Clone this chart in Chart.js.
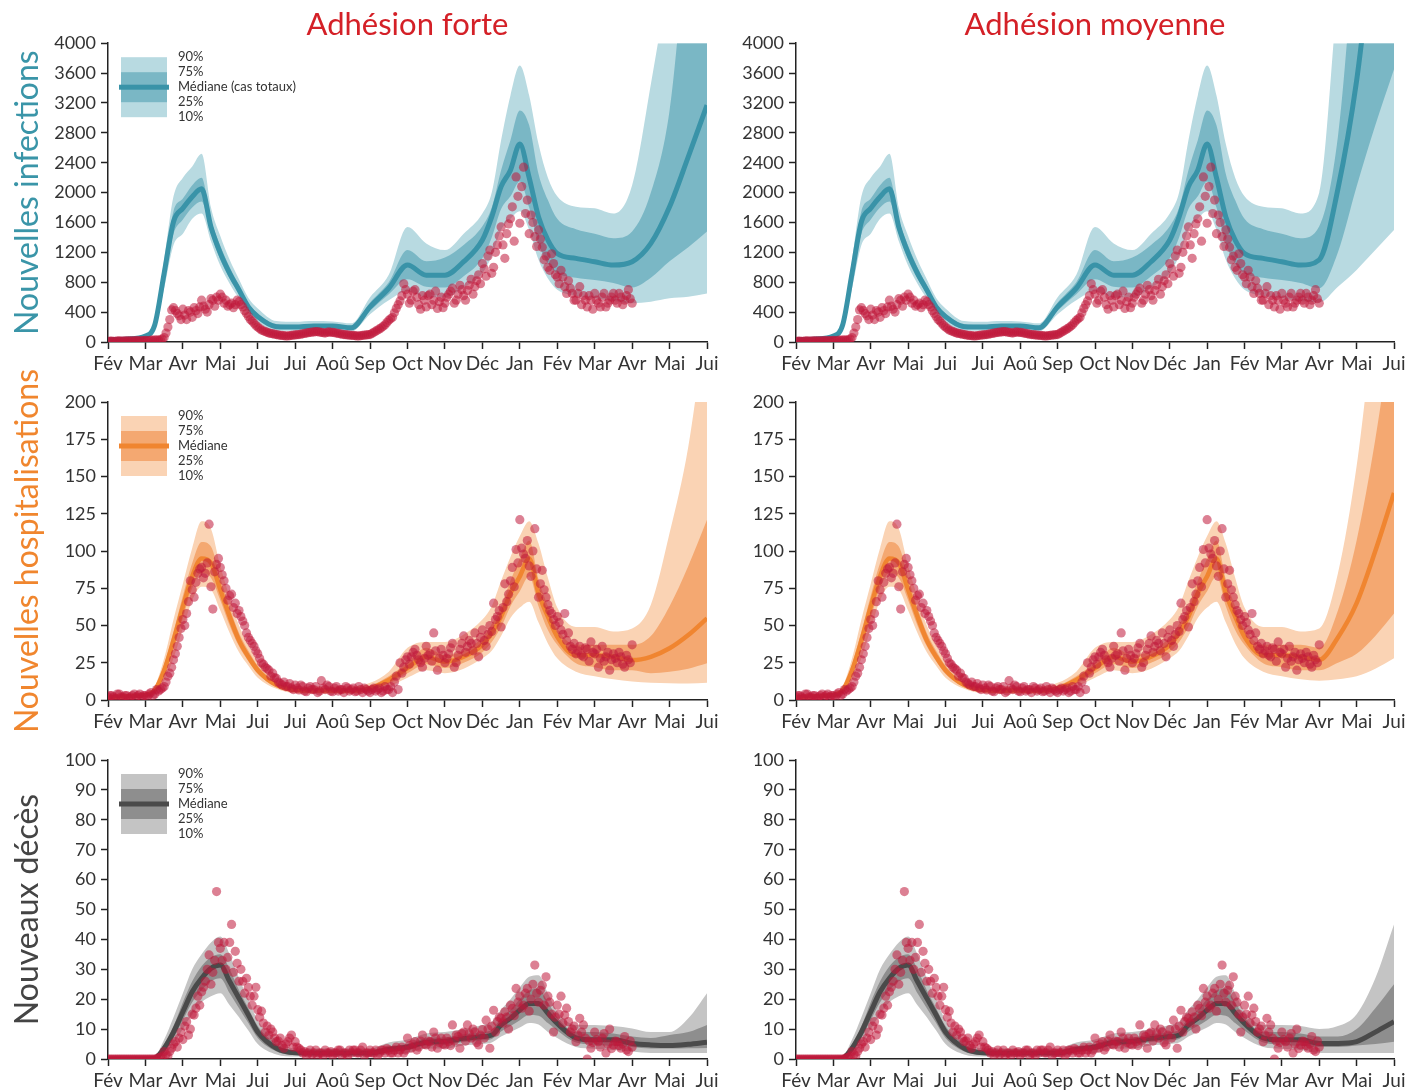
<!DOCTYPE html>
<html>
<head>
<meta charset="utf-8">
<title>Projections</title>
<script src="https://cdn.jsdelivr.net/npm/chart.js@4.4.1/dist/chart.umd.min.js"></script>
<style>
  body { margin: 0; background: #fff; width: 1409px; height: 1091px; overflow: hidden; position: relative; }
  canvas { position: absolute; }
</style>
</head>
<body>
<canvas id="c0" width="725" height="374" style="left:0;top:0"></canvas>
<canvas id="c1" width="719" height="374" style="left:690px;top:0"></canvas>
<canvas id="c2" width="725" height="372" style="left:0;top:360px"></canvas>
<canvas id="c3" width="719" height="372" style="left:690px;top:360px"></canvas>
<canvas id="c4" width="725" height="371" style="left:0;top:720px"></canvas>
<canvas id="c5" width="719" height="371" style="left:690px;top:720px"></canvas>
<script>
// {{{ data
const monthLabels = ['Fév', 'Mar', 'Avr', 'Mai', 'Jui', 'Jui', 'Aoû', 'Sep', 'Oct', 'Nov', 'Déc', 'Jan', 'Fév', 'Mar', 'Avr', 'Mai', 'Jui'];
const columnTitles = ['Adhésion forte', 'Adhésion moyenne'];

// months since 1 Feb, where the simulated bands were read
const bandMonths = [0, 0.5, 1, 1.25, 1.5, 1.75, 2, 2.25, 2.5, 2.75, 3, 3.25, 3.5, 3.75, 4, 4.5, 5, 5.5, 6, 6.5, 7, 7.5,
  8, 8.5, 9, 9.5, 10, 10.25, 10.5, 10.75, 11, 11.25, 11.5, 11.75, 12, 12.5, 13, 13.5, 14, 14.5, 15, 15.5, 16];

// infections: history (shared) up to 13.5, then the two scenarios
const infP10 = [20, 25, 55, 170, 720, 1300, 1450, 1650, 1720, 1350, 1020, 780, 580, 380, 260, 150, 150, 160, 165, 140, 370, 560,
  680, 600, 600, 730, 920, 1150, 1500, 1650, 1750, 1500, 1100, 850, 700, 620, 585, 550];
const infP25 = [25, 32, 68, 200, 830, 1450, 1640, 1800, 1880, 1450, 1100, 850, 640, 425, 300, 175, 175, 190, 190, 165, 420, 640,
  840, 740, 730, 880, 1120, 1400, 1780, 1950, 2150, 1800, 1320, 1050, 920, 860, 830, 790];
const infP50 = [30, 40, 80, 230, 920, 1610, 1790, 1945, 2050, 1540, 1190, 920, 695, 470, 340, 205, 200, 215, 215, 190, 470, 720,
  1030, 895, 895, 1075, 1365, 1675, 2080, 2300, 2650, 2200, 1675, 1365, 1185, 1120, 1075, 1030];
const infP75 = [35, 48, 92, 265, 1000, 1750, 1920, 2100, 2200, 1640, 1290, 1000, 760, 520, 385, 240, 230, 240, 240, 215, 530, 800,
  1230, 1080, 1130, 1300, 1550, 1800, 2300, 2700, 3100, 2900, 2250, 1900, 1650, 1510, 1450, 1390];
const infP90 = [40, 55, 105, 300, 1100, 1950, 2200, 2350, 2520, 1800, 1420, 1100, 840, 590, 450, 280, 270, 280, 275, 250, 600, 900,
  1540, 1320, 1230, 1450, 1720, 2000, 2700, 3300, 3700, 3300, 2650, 2200, 1950, 1810, 1790, 1720];
const infForteP10 = [520, 540, 585, 605, 650];
const infForteP25 = [730, 860, 1080, 1270, 1480];
const infForteP50 = [1075, 1320, 1810, 2480, 3170];
const infForteP75 = [1480, 2000, 3100, 5500, 7000];
const infForteP90 = [2100, 3450, 5000, 7000, 9000];
const infMoyP10 = [530, 740, 965, 1230, 1500];
const infMoyP25 = [720, 1200, 2080, 2900, 3650];
const infMoyP50 = [1100, 2050, 3500, 5600, 7500];
const infMoyP75 = [1550, 2750, 5500, 7500, 9500];
const infMoyP90 = [2000, 4700, 7000, 9000, 11000];

// hospitalisations
const hospP10 = [1, 1.5, 2, 4, 13, 28, 48, 67, 76, 74, 60, 45, 32, 23, 15, 7.5, 4.5, 4.2, 4.2, 4.2, 5, 9,
  15, 20, 18, 21, 28, 33, 43, 55, 62, 66, 52, 38, 28, 19, 16, 14];
const hospP25 = [1.5, 2, 2.8, 5.5, 16, 34, 55, 75, 85, 82, 67, 50, 36, 26, 17.5, 8.7, 5.5, 5.2, 5.2, 5.2, 6.3, 11,
  18, 24, 21.5, 25, 32, 39, 49, 63, 73, 83, 63, 47, 37, 24.6, 22, 20];
const hospP50 = [2, 2.5, 3.4, 6.7, 20, 40, 62.6, 83, 95, 92, 74, 56, 40, 29, 20, 10, 6.7, 6.3, 6.3, 6.3, 7.8, 13.4,
  21.5, 29, 25.7, 29, 37, 45, 56, 71.6, 83, 95, 71.6, 56, 42.5, 30, 30, 29];
const hospP75 = [2.5, 3, 4, 8, 24, 46, 70, 92, 106, 103, 82, 62, 45, 33, 23, 11.5, 8, 7.5, 7.5, 7.5, 9.5, 16,
  25, 35, 30, 33, 42, 51, 63, 80, 95, 107, 81, 63, 48, 37, 37, 37];
const hospP90 = [3, 4, 5, 9.5, 28, 54, 78, 102, 120, 115, 90, 69, 50, 37, 26, 13, 9.5, 9, 9, 9, 11.5, 19,
  35, 39, 39, 44, 54, 63, 80, 96, 110, 120, 105, 82, 62, 49, 49, 46];
const hospForteP10 = [12.5, 11.5, 11.2, 11, 11.5];
const hospForteP25 = [20, 18, 19, 21, 24.6];
const hospForteP50 = [26.8, 29, 34.7, 43.6, 54.8];
const hospForteP75 = [37, 43, 63, 90, 121];
const hospForteP90 = [48, 64, 112, 170, 260];
const hospMoyP10 = [13, 14, 16, 21, 28];
const hospMoyP25 = [20, 25, 31, 43, 58];
const hospMoyP50 = [27, 42, 65, 100, 139];
const hospMoyP75 = [35, 60, 107, 175, 260];
const hospMoyP90 = [48, 85, 157, 260, 340];

// deces
const deaP10 = [0, 0, 0, 0, 1.5, 5, 10, 15, 19, 21, 22, 18, 14, 9.5, 5, 1.5, 0.8, 0.8, 0.8, 0.8, 0.8, 1.5,
  2, 3.5, 3.5, 4.5, 5, 5.5, 7.5, 9, 10.5, 12, 11.5, 9, 7, 4, 3.4, 3];
const deaP25 = [0, 0, 0, 0, 2.5, 7, 13, 19, 23, 26, 27, 22, 17, 12, 7, 2.5, 1.3, 1.3, 1.3, 1.3, 1.3, 2.3,
  3, 4.5, 4.7, 5.7, 6.2, 6.7, 9.2, 11, 13, 14.7, 14.5, 12, 9.5, 5.5, 4.8, 4.4];
const deaP50 = [0, 0, 0, 0.3, 3.6, 9, 15.8, 22.5, 27, 30.3, 31.4, 25.9, 20.3, 14.7, 9, 3.6, 2.1, 2, 2, 2, 2, 3.2,
  4, 5.6, 5.9, 6.9, 7.5, 8, 11.4, 13.6, 16.4, 18.6, 18.6, 15.3, 11.9, 7.1, 6.4, 6.4];
const deaP75 = [0, 0, 0.2, 0.6, 5, 11, 19, 26, 31, 34, 35, 30, 23, 17, 11, 5, 2.8, 2.8, 2.8, 2.8, 2.8, 4.2,
  5, 7, 7.3, 8.3, 9, 9.8, 13.8, 16.5, 20, 23, 23.6, 19, 14, 9, 9, 8.5];
const deaP90 = [0.3, 0.3, 0.5, 1, 6.5, 14, 22, 30, 35, 39, 41, 35, 27, 20, 13, 6.5, 3.5, 3.5, 3.5, 3.5, 3.5, 5.5,
  6.5, 8.5, 9, 10, 11.4, 12.5, 16.5, 20, 24, 27.5, 28, 22, 16, 11.4, 11.4, 11];
const deaForteP10 = [2.5, 2, 2, 2, 2];
const deaForteP25 = [4, 3.5, 3.5, 3.6, 3.7];
const deaForteP50 = [5.2, 4.7, 4.5, 4.9, 5.6];
const deaForteP75 = [7.5, 7, 8, 9, 11.4];
const deaForteP90 = [10.2, 9, 9, 13.6, 22];
const deaMoyP10 = [2, 2, 2, 2, 2];
const deaMoyP25 = [4, 4, 4.5, 5, 5.8];
const deaMoyP50 = [5.2, 5.2, 5.8, 9, 12.5];
const deaMoyP75 = [7.5, 7.5, 10, 17, 25];
const deaMoyP90 = [10, 11, 15, 27, 45];

// observed values, one every 0.1 month from 1 Feb to 1 Apr (obs...A on the tenths, obs...B halfway between)
const obsInfA = [10, 12, 10, 15, 12, 14, 16, 15, 18, 20, 22, 20, 25, 28, 30,
  60, 200, 430, 420, 350, 440, 300, 400, 460, 380, 560, 440, 500, 560, 600, 640, 520, 480, 520, 500, 540, 470, 380, 300, 250,
  200, 160, 140, 120, 110, 100, 90, 85, 80, 90, 95, 100, 110, 120, 130, 135, 140, 130, 120, 135,
  130, 120, 110, 100, 95, 90, 85, 80, 90, 95, 100, 130, 160, 190, 230, 290, 330, 450, 550, 780,
  640, 560, 700, 500, 620, 470, 640, 560, 450, 600, 520, 640, 720, 560, 760, 620, 690, 840, 740, 900,
  1050, 880, 1230, 1000, 1300, 1540, 1120, 1580, 1810, 2210, 1590, 2340, 1900, 1700, 1410, 1500, 1270, 1150, 960, 1050,
  870, 960, 740, 820, 650, 560, 740, 620, 470, 560, 650, 520, 600, 470, 560, 650, 520, 600, 560, 700, 520];
const obsInfB = [12, 10, 14, 12, 15, 14, 16, 18, 16, 20, 20, 24, 26, 25, 40,
  120, 300, 460, 380, 300, 360, 420, 330, 420, 470, 480, 400, 580, 480, 560, 600, 560, 500, 460, 560, 500, 420, 340, 280, 220,
  180, 150, 130, 115, 105, 95, 88, 82, 85, 92, 98, 105, 115, 125, 132, 138, 132, 125, 128, 130,
  125, 115, 105, 98, 92, 88, 82, 85, 92, 98, 115, 145, 175, 210, 260, 310, 390, 500, 620, 700,
  520, 680, 600, 440, 560, 620, 500, 680, 540, 460, 600, 680, 520, 640, 700, 560, 760, 640, 820, 780,
  980, 1150, 920, 1200, 1420, 1300, 1450, 1650, 1350, 1950, 2080, 1720, 1450, 1600, 1280, 1380, 1100, 1000, 1180, 900,
  780, 870, 650, 720, 560, 650, 500, 560, 620, 440, 560, 470, 650, 520, 600, 560, 650, 500, 620, 580];
const obsHospA = [2, 3, 1, 4, 2, 3, 2, 4, 3, 2, 3, 4, 3, 7, 7,
  9, 16, 22, 31, 42, 54, 58, 80, 69, 85, 89, 85, 118, 61, 91, 89, 80, 67, 71, 65, 60, 53, 45, 40, 36,
  31, 25, 22, 20, 18, 14.5, 11, 12, 9, 8, 10, 6.7, 9, 5.6, 9, 7, 5, 13, 7, 9,
  5.6, 9, 7, 5, 8, 7, 5.6, 9, 5, 7, 5, 8, 7, 5, 9, 7, 5, 16, 25, 22,
  29, 29, 34, 27, 22, 36, 31, 45, 20, 34, 25, 31, 38, 25, 34, 43, 36, 38, 45, 29,
  47, 36, 50, 65, 56, 49, 78, 71, 89, 101, 121, 98, 107, 83, 115, 69, 87, 69, 60, 54,
  56, 47, 58, 45, 34, 31, 36, 29, 34, 39, 31, 22, 36, 29, 20, 31, 25, 29, 22, 27, 37];
const obsHospB = [3, 2, 4, 2, 3, 1, 3, 2, 4, 3, 2, 5, 4, 6, 8,
  12, 18, 27, 36, 48, 50, 66, 74, 79, 88, 82, 92, 76, 86, 95, 84, 75, 70, 62, 58, 56, 50, 42, 38, 33,
  28, 24, 21, 16, 15, 12, 10, 9, 11, 7, 8, 10, 6, 8, 7, 9, 6, 8, 10, 6,
  8, 6, 7, 9, 6, 8, 6, 7, 8, 6, 7, 6, 8, 6, 7, 9, 12, 7, 18, 27,
  24, 32, 30, 25, 28, 30, 26, 33, 28, 30, 28, 35, 22, 30, 38, 32, 40, 33, 38, 42,
  40, 44, 46, 54, 60, 62, 66, 80, 76, 92, 102, 95, 90, 100, 88, 78, 74, 64, 58, 50,
  52, 44, 40, 36, 38, 33, 30, 35, 26, 32, 34, 28, 26, 32, 27, 28, 32, 24, 30, 25];
const obsDeaA = [0, 0, 0, 0, 0, 0, 0, 0, 0, 0, 0, 0, 0, 0, 0.5,
  2.5, 1, 3.6, 5.8, 7, 6.5, 12.5, 10, 14.7, 21, 22.5, 26, 34.8, 29, 56, 37, 39, 34, 45, 36, 26, 26, 27, 21, 21,
  16.5, 16, 9, 8, 9, 5.8, 7, 3.6, 5.8, 8, 5.8, 3.6, 2, 1, 3, 2, 1, 2, 3, 2,
  1, 2, 3, 2, 1, 2, 3, 2, 4, 2, 3, 2, 1, 3, 2, 3, 2, 4, 3, 2,
  7, 3.6, 5.8, 4, 8, 4.7, 5.8, 9, 3.6, 7, 4.7, 5.8, 11.4, 8, 3.6, 9, 11.4, 7, 9, 4.7,
  9.8, 13, 3.6, 16.3, 12.5, 13.6, 15.8, 10, 16.9, 23.6, 21, 18, 23.6, 20, 31.4, 19, 24.7, 27.5, 19, 9,
  18, 21, 14.7, 12.5, 10, 5.8, 13.6, 11.4, 0, 3.6, 9, 5.8, 7, 2, 10, 4.7, 5.8, 3.6, 7.5, 2.5, 4];
const obsDeaB = [0, 0, 0, 0, 0, 0, 0, 0, 0, 0, 0, 0, 0, 0.5, 1,
  1.5, 2.5, 5, 4, 9, 11, 8, 15, 17, 18, 24, 30, 25, 33, 39, 33, 30, 39, 29, 32, 30, 22, 24, 18, 24,
  14, 12, 11, 10, 7, 6, 4.5, 5, 7, 4, 4, 3, 2.5, 2, 1.5, 3, 2, 1, 2, 2.5,
  2, 3, 1, 2, 3, 3, 2, 3, 1, 2, 2, 3, 2, 3, 3.5, 2, 3, 2, 4, 3,
  4.5, 5, 3, 6, 5, 6, 4, 7, 5.5, 5, 7, 4.5, 6, 7.5, 8.5, 6, 8.5, 10, 5.5, 8,
  7, 10, 11, 9, 14, 12, 14, 18, 14.5, 19, 17, 22, 16, 25, 22, 23, 18, 21, 15, 14,
  15, 12, 17, 9, 11, 8, 9, 7, 6, 5.5, 6.5, 4, 8.5, 5, 3.5, 6, 4.5, 5, 3, 6];
// }}}

Chart.defaults.font.family = "Lato, 'Open Sans', sans-serif";
const axisColor = '#222';
const textColor = '#333';
const dotColor = 'rgba(192, 24, 58, 0.55)';

// {{{ rows
const rows =
[
  {
    title: 'Nouvelles infections', titleColor: '#3a95a8', max: 4000, step: 400, legend: 'Médiane (cas totaux)',
    light: '#b8dae1', mid: '#7ab7c5', dark: '#3993a8', lineWidth: 5, top: 0, obs: [obsInfA, obsInfB],
    hist: [infP10, infP25, infP50, infP75, infP90],
    tails: [[infForteP10, infForteP25, infForteP50, infForteP75, infForteP90], [infMoyP10, infMoyP25, infMoyP50, infMoyP75, infMoyP90]]
  },
  {
    title: 'Nouvelles hospitalisations', titleColor: '#f0862e', max: 200, step: 25, legend: 'Médiane',
    light: '#fad3b4', mid: '#f4a871', dark: '#f08530', lineWidth: 4.5, top: 42, obs: [obsHospA, obsHospB],
    hist: [hospP10, hospP25, hospP50, hospP75, hospP90],
    tails: [[hospForteP10, hospForteP25, hospForteP50, hospForteP75, hospForteP90], [hospMoyP10, hospMoyP25, hospMoyP50, hospMoyP75, hospMoyP90]]
  },
  {
    title: 'Nouveaux décès', titleColor: '#444', max: 100, step: 10, legend: 'Médiane',
    light: '#c4c4c4', mid: '#8e8e8e', dark: '#4a4a4a', lineWidth: 5, top: 40, obs: [obsDeaA, obsDeaB],
    hist: [deaP10, deaP25, deaP50, deaP75, deaP90],
    tails: [[deaForteP10, deaForteP25, deaForteP50, deaForteP75, deaForteP90], [deaMoyP10, deaMoyP25, deaMoyP50, deaMoyP75, deaMoyP90]]
  }
];
// }}}

// {{{ bandLegend()
function bandLegend(row)
{
  return {
    id: 'bandLegend',
    afterDraw(chart)
    {
      const ctx = chart.ctx;
      const x = chart.chartArea.left + 13;
      const y = chart.chartArea.top + 14;
      ctx.save();
      ctx.fillStyle = row.light;
      ctx.fillRect(x, y, 46, 60);
      ctx.fillStyle = row.mid;
      ctx.fillRect(x, y + 15, 46, 30);
      ctx.fillStyle = row.dark;
      ctx.fillRect(x - 2, y + 27.5, 50, 5);
      ctx.fillStyle = textColor;
      ctx.font = "13px Lato, 'Open Sans', sans-serif";
      ctx.textBaseline = 'middle';
      ['90%', '75%', row.legend, '25%', '10%'].forEach((t, i) =>
      {
        ctx.fillText(t, x + 57, y + i * 15);
      });
      ctx.restore();
    }
  };
}
// }}}

// {{{ points()
function points(hist, tail)
{
  return hist.concat(tail).map((v, i) => ({x: bandMonths[i], y: v}));
}
// }}}

// {{{ panel()
function panel(r, c)
{
  const row = rows[r];
  const q = row.hist.map((h, i) => points(h, row.tails[c][i]));
  const obs = row.obs[0].map((v, i) => ({x: i / 10, y: v})).concat(row.obs[1].map((v, i) => ({x: i / 10 + 0.05, y: v})));
  const band = {borderColor: 'rgba(0,0,0,0)', borderWidth: 0, pointRadius: 0, cubicInterpolationMode: 'monotone'};
  const yWidth = (c == 0) ? 108 : 106;
  new Chart(document.getElementById('c' + (r * 2 + c)),
  {
    type: 'line',
    data:
    {
      datasets:
      [
        Object.assign({data: q[0], fill: false, order: 5}, band),
        Object.assign({data: q[4], fill: 0, backgroundColor: row.light, order: 4}, band),
        Object.assign({data: q[1], fill: false, order: 3}, band),
        Object.assign({data: q[3], fill: 2, backgroundColor: row.mid, order: 2}, band),
        {data: q[2], fill: false, order: 1, borderColor: row.dark, borderWidth: row.lineWidth, pointRadius: 0, cubicInterpolationMode: 'monotone', borderJoinStyle: 'round'},
        {data: obs, showLine: false, order: 0, pointRadius: 4.6, pointBackgroundColor: dotColor, pointBorderWidth: 0}
      ]
    },
    options:
    {
      responsive: false,
      animation: false,
      events: [],
      layout: {padding: {top: row.top, right: (c == 0) ? 18 : 15, left: 0, bottom: 0}},
      plugins:
      {
        legend: {display: false},
        tooltip: {enabled: false},
        title:
        {
          display: r == 0,
          text: columnTitles[c],
          color: '#d42027',
          fullSize: false,
          font: {size: 31, weight: 'normal'},
          padding: {top: 6, bottom: 0}
        }
      },
      scales:
      {
        x:
        {
          type: 'linear',
          min: 0,
          max: 16,
          afterFit: (s) => { s.height = 32; },
          border: {color: axisColor, width: 1.5},
          grid: {drawOnChartArea: false, tickLength: 7, tickWidth: 1.5, tickColor: axisColor},
          ticks: {stepSize: 1, autoSkip: false, maxRotation: 0, padding: 3, color: textColor, font: {size: 19}, callback: (v) => monthLabels[v]}
        },
        y:
        {
          min: 0,
          max: row.max,
          afterFit: (s) => { s.width = yWidth; },
          border: {color: axisColor, width: 1.5},
          grid: {drawOnChartArea: false, tickLength: 7, tickWidth: 1.5, tickColor: axisColor},
          title: {display: c == 0, text: row.title, color: row.titleColor, font: {size: 32}, padding: {top: 8, bottom: 0}},
          ticks: {stepSize: row.step, padding: 5, color: textColor, font: {size: 18}, callback: (v) => String(v)}
        }
      }
    },
    plugins: (c == 0) ? [bandLegend(row)] : []
  });
}
// }}}

for (let r = 0; r < rows.length; r++)
{
  for (let c = 0; c < 2; c++)
  {
    panel(r, c);
  }
}
</script>
</body>
</html>
